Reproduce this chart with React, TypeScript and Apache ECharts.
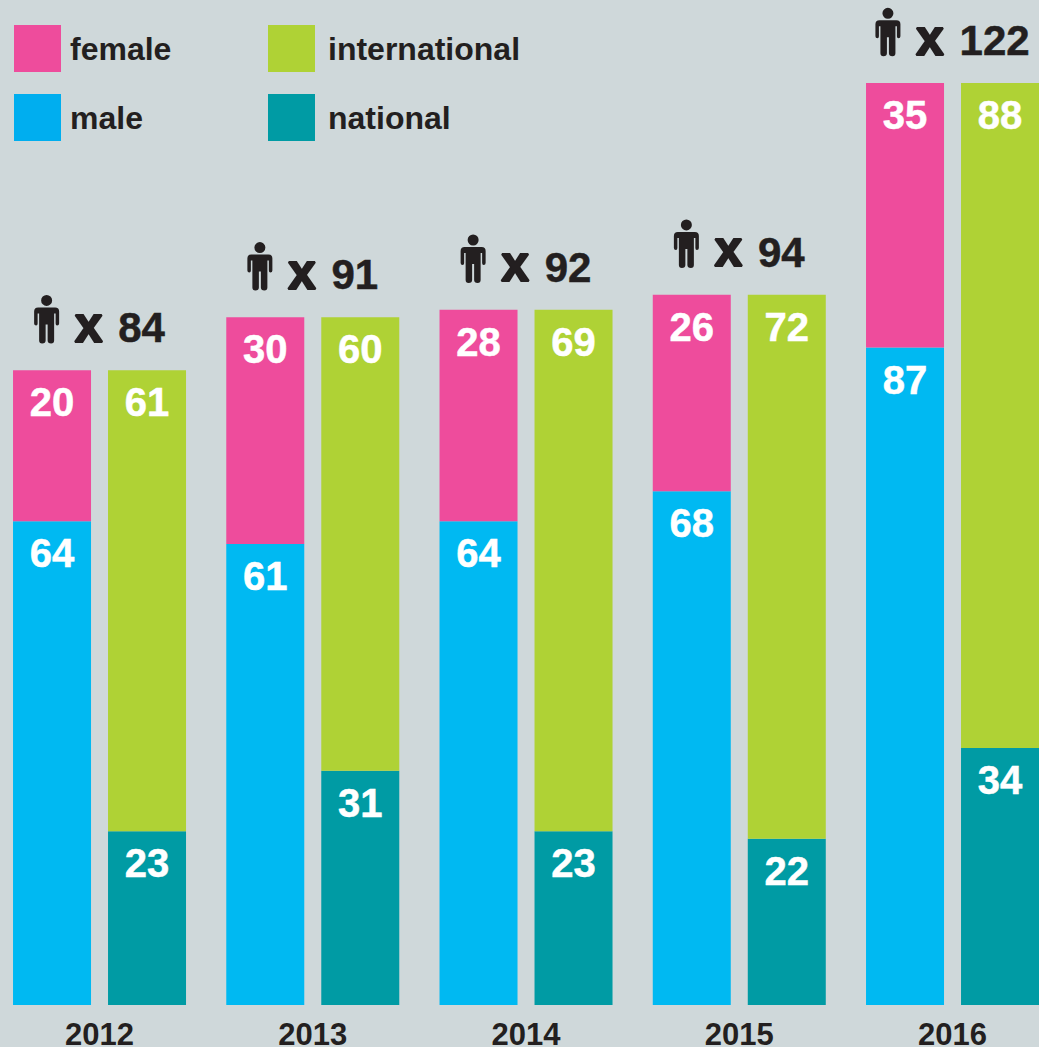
import React, { useEffect, useRef } from "react";
import * as echarts from "echarts";

const years = ["2012", "2013", "2014", "2015", "2016"];
const female = [20, 30, 28, 26, 35];
const male = [64, 61, 64, 68, 87];
const international = [61, 60, 69, 72, 88];
const national = [23, 31, 23, 22, 34];
const totals = [84, 91, 92, 94, 122];

const FONT = '"Liberation Sans", Arial, sans-serif';
const INK = "#231F20";
const PERSON =
  "M18,6 A5.5,5.5 0 1 1 7,6 A5.5,5.5 0 1 1 18,6 Z " +
  "M4,13 H21 Q25,13 25,17 V29 Q25,31 23,31 Q21.5,31 21.5,29 V19 H20 V46 Q20,49 17,49 Q13.5,49 13.5,46 V30 H11.5 V46 Q11.5,49 8,49 Q5,49 5,46 V19 H3.5 V29 Q3.5,31 2,31 Q0,31 0,29 V17 Q0,13 4,13 Z";

const barSeries = (name: string, data: number[], color: string, stack: string) => ({
  type: "bar",
  name,
  data,
  stack,
  barWidth: 78,
  barGap: "21.8%",
  itemStyle: { color },
  label: {
    show: true,
    position: "insideTop",
    distance: 12,
    color: "#fff",
    fontFamily: FONT,
    fontWeight: "bold",
    fontSize: 40,
    textBorderColor: "#fff",
    textBorderWidth: 0.5,
  },
});

export default function App() {
  const ref = useRef<HTMLDivElement>(null);
  useEffect(() => {
    document.body.style.margin = "0";
    document.body.style.background = "#CFD8DA";
    const chart = echarts.init(ref.current!, null, { renderer: "svg" });
    const legendBase = {
      orient: "vertical",
      top: 25,
      padding: 0,
      itemWidth: 47,
      itemHeight: 47,
      itemGap: 22,
      icon: "rect",
      selectedMode: false,
      inactiveColor: INK,
    };
    const legendText = (left: number) => ({
      color: INK,
      fontFamily: FONT,
      fontWeight: "bold",
      fontSize: 32,
      padding: [0, 0, 2, left],
    });
    chart.setOption({
      animation: false,
      backgroundColor: "#CFD8DA",
      legend: [
        {
          ...legendBase,
          left: 14,
          textStyle: legendText(4),
          data: [
            { name: "female", itemStyle: { color: "#EE4C9C" } },
            { name: "male", itemStyle: { color: "#00AEEF" } },
          ],
        },
        {
          ...legendBase,
          left: 268,
          textStyle: legendText(8),
          data: [
            { name: "international", itemStyle: { color: "#AFD235" } },
            { name: "national", itemStyle: { color: "#009BA4" } },
          ],
        },
      ],
      grid: {
        left: -7.1,
        width: 1066.25,
        top: 22.6,
        height: 982.4,
        containLabel: false,
        outerBoundsMode: "none",
      },
      xAxis: {
        type: "category",
        data: years,
        axisLine: { show: false },
        axisTick: { show: false },
        axisLabel: {
          margin: 16,
          lineHeight: 26,
          color: INK,
          fontFamily: FONT,
          fontWeight: "bold",
          fontSize: 31,
          interval: 0,
        },
      },
      yAxis: { type: "value", min: 0, max: 130, show: false, splitLine: { show: false } },
      series: [
        barSeries("male", male, "#00B9F2", "gender"),
        barSeries("female", female, "#EE4C9C", "gender"),
        barSeries("national", national, "#009BA4", "origin"),
        barSeries("international", international, "#AFD235", "origin"),
        {
          type: "custom",
          name: "total",
          data: totals.map((v, i) => [i, v]),
          silent: true,
          clip: false,
          renderItem: (_p: any, api: any) => {
            const v = api.value(1);
            const [cx, top] = api.coord([api.value(0), v]);
            const label = String(v);
            const digitsW = label.length * 23.4;
            const totalW = 25 + 16 + 27 + 16 + digitsW;
            const x0 = cx - totalW / 2;
            const base = top - 27.5;
            return {
              type: "group",
              children: [
                {
                  type: "path",
                  shape: { pathData: PERSON, x: x0, y: base - 48, width: 25, height: 49 },
                  style: { fill: INK },
                },
                {
                  type: "text",
                  style: {
                    x: x0 + 41 + 13.5,
                    y: base - 18,
                    text: "x",
                    align: "center",
                    verticalAlign: "middle",
                    fill: INK,
                    stroke: INK,
                    lineWidth: 2.2,
                    font: `bold 50px ${FONT}`,
                  },
                },
                {
                  type: "text",
                  style: {
                    x: x0 + totalW,
                    y: base - 15,
                    text: label,
                    align: "right",
                    verticalAlign: "middle",
                    fill: INK,
                    stroke: INK,
                    lineWidth: 0.5,
                    font: `bold 42px ${FONT}`,
                  },
                },
              ],
            };
          },
        },
      ],
    });
    return () => chart.dispose();
  }, []);
  return <div ref={ref} style={{ width: 1039, height: 1047 }} />;
}
